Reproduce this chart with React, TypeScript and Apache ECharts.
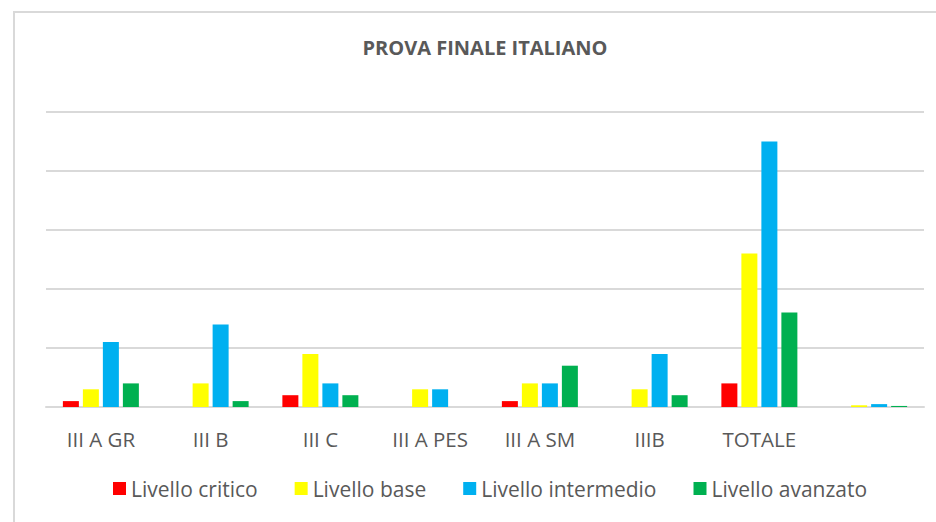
import React, { useEffect, useRef } from "react";
import * as echarts from "echarts";

const categories = ["III A GR", "III B", "III C", "III A PES", "III A SM", "IIIB", "TOTALE", ""];
const seriesNames = ["Livello critico", "Livello base", "Livello intermedio", "Livello avanzato"];
const critico = [1, 0, 2, 0, 1, 0, 4, 0];
const base = [3, 4, 9, 3, 4, 3, 26, 0.29];
const intermedio = [11, 14, 4, 3, 4, 9, 45, 0.49];
const avanzato = [4, 1, 2, 0, 7, 2, 16, 0.18];
const colors = ["#ff0000", "#ffff00", "#00b0f0", "#00b050"];
const titleText = "PROVA FINALE ITALIANO";

export default function App() {
  const ref = useRef<HTMLDivElement>(null);
  useEffect(() => {
    document.body.style.margin = "0";
    const chart = echarts.init(ref.current!, null, { renderer: "svg" });
    const data = [critico, base, intermedio, avanzato];
    chart.setOption({
      animation: false,
      backgroundColor: "#ffffff",
      title: {
        text: titleText,
        left: 480,
        textAlign: "center",
        top: 32,
        textStyle: {
          fontFamily: "Open Sans",
          fontWeight: "bold",
          fontSize: 20,
          color: "#595959",
        },
      },
      graphic: [
        {
          type: "polyline",
          shape: { points: [[14, 530], [14, 12], [940, 12]] },
          style: { stroke: "#d9d9d9", lineWidth: 2, fill: "none" },
        },
      ],
      legend: {
        bottom: 18,
        left: 108,
        itemWidth: 13,
        itemHeight: 13,
        itemGap: 37,
        icon: "rect",
        textStyle: { fontFamily: "Open Sans", fontSize: 21, color: "#595959" },
        data: seriesNames,
      },
      grid: { left: 46, right: 12, top: 112, bottom: 115 },
      xAxis: {
        type: "category",
        data: categories,
        axisLine: { lineStyle: { color: "#d9d9d9", width: 2 } },
        axisTick: { show: false },
        axisLabel: {
          fontFamily: "Open Sans",
          fontSize: 20.5,
          color: "#595959",
          margin: 21,
          interval: 0,
        },
      },
      yAxis: {
        type: "value",
        min: 0,
        max: 50,
        interval: 10,
        axisLabel: { show: false },
        axisLine: { show: false },
        axisTick: { show: false },
        splitLine: { lineStyle: { color: "#d9d9d9", width: 2 } },
      },
      series: seriesNames.map((name, i) => ({
        name,
        type: "bar",
        data: data[i],
        barWidth: 16,
        barGap: "25%",
        itemStyle: { color: colors[i] },
      })),
    });
    return () => chart.dispose();
  }, []);
  return (
    <div
      ref={ref}
      style={{ position: "absolute", left: 0, top: 0, width: 936, height: 522 }}
    />
  );
}
